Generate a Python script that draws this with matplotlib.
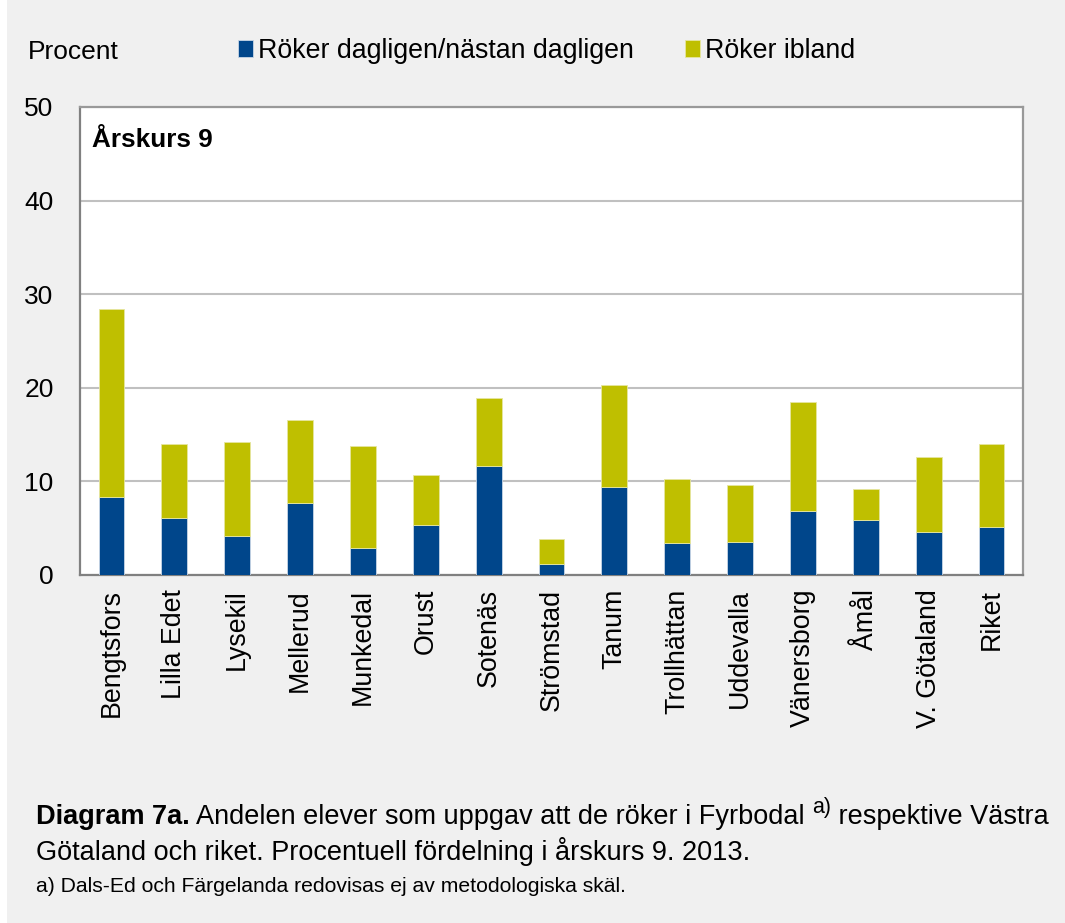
import matplotlib
matplotlib.use("Agg")
import numpy as np
import matplotlib.pyplot as plt
from matplotlib.patches import Rectangle

plt.rcParams['font.family'] = ['Liberation Sans', 'DejaVu Sans']

kommuner = ["Bengtsfors", "Lilla Edet", "Lysekil", "Mellerud", "Munkedal",
            "Orust", "Sotenäs", "Strömstad", "Tanum", "Trollhättan",
            "Uddevalla", "Vänersborg", "Åmål", "V. Götaland", "Riket"]
dagligen = [8.3, 6.1, 4.2, 7.7, 2.9, 5.3, 11.6, 1.2, 9.4, 3.4, 3.5, 6.8, 5.9, 4.6, 5.1]
ibland = [20.1, 7.9, 10.0, 8.9, 10.9, 5.4, 7.3, 2.6, 10.9, 6.9, 6.1, 11.7, 3.3, 8.0, 8.9]
y_ticks = [0, 10, 20, 30, 40, 50]

BLUE = "#00468b"
YELLOW = "#bfbf00"
BG = "#f0f0f0"
W, H = 1065, 923


def main():
    fig = plt.figure(figsize=(W / 100, H / 100), dpi=100, facecolor=BG)
    # thin white strip at the left edge
    fig.patches.append(Rectangle((0, 0), 7 / W, 1, transform=fig.transFigure,
                                 facecolor="white", edgecolor="none", zorder=-1))

    ax = fig.add_axes([80 / W, 1 - 575 / H, (1023 - 80) / W, (575 - 107) / H])
    ax.set_facecolor("white")

    x_pos = np.arange(len(kommuner))
    width = 0.41
    b1 = ax.bar(x_pos, dagligen, width, color=BLUE, edgecolor="#c8d6e6",
                linewidth=0.6, zorder=3, label="Röker dagligen/nästan dagligen")
    b2 = ax.bar(x_pos, ibland, width, bottom=dagligen, color=YELLOW,
                edgecolor="#e6e6a0", linewidth=0.6, zorder=3, label="Röker ibland")

    ax.set_xlim(-0.5, len(kommuner) - 0.5)
    ax.set_ylim(0, 50)
    ax.set_yticks(y_ticks)
    ax.set_xticks(x_pos)
    ax.set_xticklabels(kommuner, rotation=90)
    ax.tick_params(axis="y", length=0, pad=19, labelsize=19)
    ax.tick_params(axis="x", length=0, pad=10, labelsize=19.3)
    ax.yaxis.grid(True, color="#c0c0c0", linewidth=1.5, zorder=0)
    ax.set_axisbelow(True)
    for side in ["left", "bottom"]:
        ax.spines[side].set_color("#808080")
        ax.spines[side].set_linewidth(1.6)
    for side in ["top", "right"]:
        ax.spines[side].set_color("#999999")
        ax.spines[side].set_linewidth(1.6)

    ax.text(0.0127, 0.955, "Årskurs 9", transform=ax.transAxes,
            fontsize=18.8, fontweight="bold", va="top", ha="left")

    fig.text(28 / W, 1 - 59 / H, "Procent", fontsize=19, va="baseline")
    fig.legend(handles=[b1, b2], loc="center left", ncol=2,
               bbox_to_anchor=(238 / W, 1 - 51 / H), frameon=False,
               fontsize=19.3, handlelength=0.57, handleheight=0.62,
               handletextpad=0.18, columnspacing=1.9, borderpad=0, borderaxespad=0)

    # caption, first line built from pieces
    fig.canvas.draw()
    r = fig.canvas.get_renderer()
    y1 = 1 - 824 / H
    x = 36 / W
    pieces = [("Diagram 7a.", dict(fontweight="bold", fontsize=19.5), 0),
              (" Andelen elever som uppgav att de röker i Fyrbodal ", dict(fontsize=19.5), 0),
              ("a)", dict(fontsize=15.5), 11),
              (" respektive Västra", dict(fontsize=19.5), 0)]
    for s, kw, raise_px in pieces:
        t = fig.text(x, y1 + raise_px / H, s, va="baseline", ha="left", **kw)
        bb = t.get_window_extent(renderer=r)
        x += bb.width / W
    fig.text(36 / W, 1 - 860 / H, "Götaland och riket. Procentuell fördelning i årskurs 9. 2013.",
             fontsize=19.5, va="baseline")
    fig.text(36 / W, 1 - 892 / H, "a) Dals-Ed och Färgelanda redovisas ej av metodologiska skäl.",
             fontsize=15.2, va="baseline")

    fig.savefig("out.png", dpi=100, facecolor=BG)


if __name__ == "__main__":
    main()
